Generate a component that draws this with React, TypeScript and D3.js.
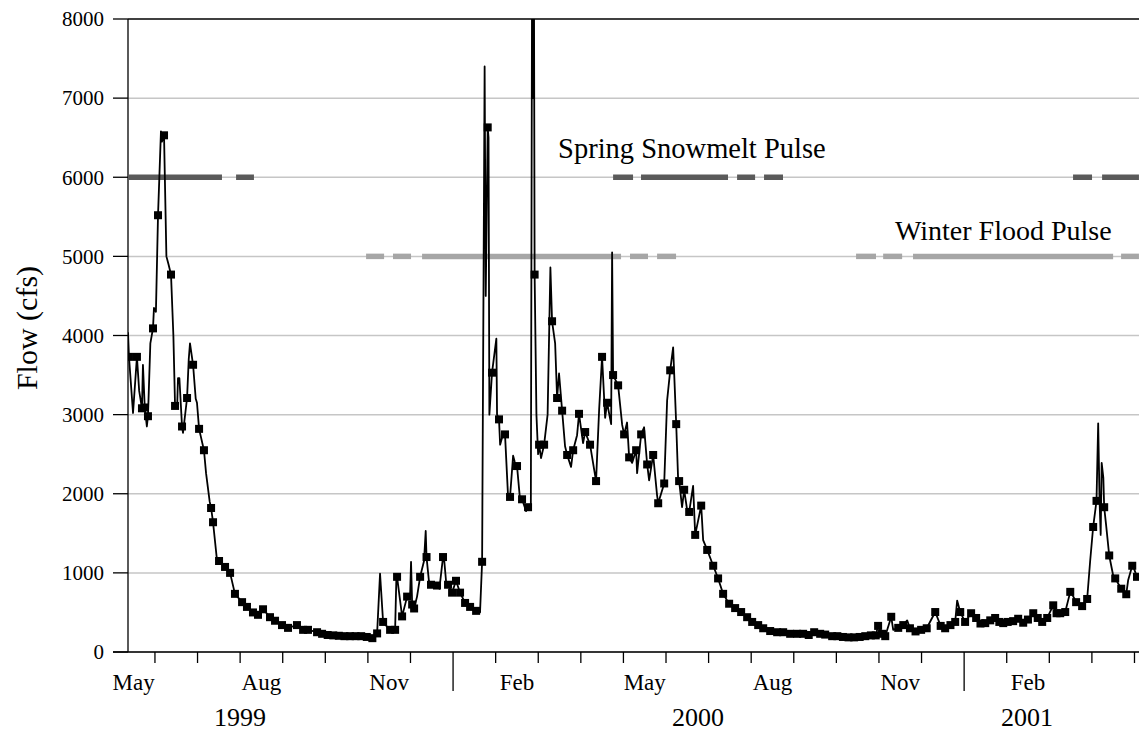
import React from "react";
import * as d3 from "d3";

// Observation index (days since first record, 13 May 1999), flow in cfs, 1 = sampled (square marker)
const flowRecord: [number, number, number][] = [
  [0, 4040, 0], [0.7, 3730, 1], [3.6, 3020, 0], [6.4, 3730, 1], [8, 3300, 0], [10, 3080, 1],
  [10.7, 3630, 0], [12, 3090, 1], [13.5, 2850, 0], [14.3, 2980, 1], [16, 3900, 0], [17.9, 4090, 1],
  [18.6, 4350, 0], [20, 4300, 0], [21.5, 5520, 1], [23.6, 6580, 0], [24.3, 6450, 0], [25.8, 6530, 1],
  [27.5, 5000, 0], [29, 4900, 0], [30.8, 4770, 1], [32.5, 4000, 0], [33.7, 3110, 1], [35.2, 3100, 0],
  [35.8, 3460, 0], [36.8, 3460, 0], [38.7, 2850, 1], [39.4, 2770, 0], [42.3, 3210, 1], [43.5, 3700, 0],
  [44.4, 3900, 0], [46.6, 3630, 1], [48.5, 3200, 0], [49.4, 3150, 0], [50.9, 2820, 1], [54.4, 2550, 1],
  [55.9, 2260, 0], [58.5, 1900, 0], [59.5, 1820, 1], [60.9, 1640, 1], [63.5, 1200, 0], [65.2, 1150, 1],
  [69.5, 1075, 1], [73.1, 1000, 1], [76.6, 735, 1], [81.7, 630, 1], [85.2, 570, 1], [89.5, 500, 1],
  [93.1, 470, 1], [96.7, 540, 1], [101.7, 440, 1], [105.3, 395, 1], [110.3, 340, 1], [114.6, 305, 1],
  [121, 340, 1], [125.4, 280, 1], [128.9, 280, 1], [135.4, 250, 1], [139, 230, 1], [143, 215, 1],
  [147, 210, 1], [151, 205, 1], [155, 200, 1], [159, 200, 1], [163, 200, 1], [167, 200, 1],
  [171, 190, 1], [175, 175, 1], [178.4, 235, 1], [180.5, 990, 0], [182.7, 380, 1], [185, 330, 0],
  [187.7, 280, 1], [191.3, 280, 1], [192.2, 940, 0], [192.7, 950, 1], [196.3, 450, 1], [199.9, 700, 1],
  [202, 700, 0], [202.7, 1140, 0], [203.5, 600, 1], [204.9, 550, 1], [207, 700, 0], [209.2, 950, 1],
  [212, 1150, 0], [213.2, 1530, 0], [213.8, 1200, 1], [215.5, 900, 0], [217, 850, 1], [219, 820, 0],
  [221.3, 840, 1], [223, 800, 0], [225.6, 1200, 1], [226.5, 1150, 0], [228, 850, 0], [229.2, 850, 1],
  [232.1, 750, 1], [234.9, 900, 1], [237.8, 750, 1], [241.4, 620, 1], [245, 570, 1], [249.3, 520, 1],
  [252.1, 500, 0], [253.6, 1140, 1], [255.4, 7400, 0], [256.2, 4500, 0], [257.6, 6630, 1], [258.2, 6500, 0],
  [258.8, 3000, 0], [260.7, 3530, 1], [263.8, 3960, 0], [264.3, 3000, 0], [265.7, 2940, 1], [266.5, 2620, 0],
  [268.5, 2750, 0], [270, 2750, 1], [272.2, 1960, 0], [273.6, 1960, 1], [275.8, 2480, 0], [277, 2400, 0],
  [278.6, 2350, 1], [280.8, 1920, 0], [282.2, 1930, 1], [285.1, 1780, 0], [286.5, 1830, 1], [288.5, 1800, 0],
  [289.5, 9500, 0], [290.1, 7000, 0], [290.6, 9500, 0], [291.2, 4770, 1], [292.5, 3000, 0], [293.7, 2500, 0],
  [294.4, 2620, 1], [295.8, 2450, 0], [298, 2620, 1], [300.5, 3000, 0], [302.5, 4860, 0], [303.7, 4180, 1],
  [305.9, 3900, 0], [307.3, 3210, 1], [308.7, 3520, 0], [310.9, 3050, 1], [313, 2600, 0], [314.5, 2490, 1],
  [317.3, 2340, 0], [318.8, 2550, 1], [321.6, 2740, 0], [323, 3010, 1], [325.9, 2640, 0], [327.4, 2780, 1],
  [330.9, 2620, 1], [335.2, 2160, 1], [337.4, 3060, 0], [339.5, 3730, 1], [341.7, 2960, 0], [343.1, 3150, 1],
  [346, 2880, 0], [346.7, 5050, 0], [347.4, 3500, 1], [351, 3370, 1], [353.9, 2870, 0], [355.3, 2750, 1],
  [357.4, 2900, 0], [358.9, 2460, 1], [361, 2390, 0], [363.9, 2550, 1], [364.6, 2260, 0], [367.5, 2750, 1],
  [369.6, 2840, 0], [371.8, 2370, 1], [373.2, 2170, 0], [376.1, 2490, 1], [378.9, 1980, 0], [379.7, 1880, 1],
  [384, 2130, 1], [386.1, 3180, 0], [388.3, 3560, 1], [390.4, 3850, 0], [392.6, 2880, 1], [394, 2170, 0],
  [394.7, 2160, 1], [396.8, 1830, 0], [398.3, 2050, 1], [400.4, 1800, 0], [401.9, 1770, 1], [404.7, 2100, 0],
  [406.2, 1480, 1], [410.5, 1850, 1], [411.9, 1415, 0], [414.8, 1290, 1], [419.1, 1090, 1], [422.6, 930, 1],
  [426.2, 735, 1], [430.5, 610, 1], [434.8, 555, 1], [439.1, 505, 1], [443.4, 440, 1], [447, 380, 1],
  [451.3, 340, 1], [454.9, 300, 1], [459.9, 265, 1], [464.9, 250, 1], [469.2, 250, 1], [474.2, 230, 1],
  [479.2, 230, 1], [483.5, 230, 1], [487.5, 215, 1], [491.4, 250, 1], [495.7, 230, 1], [499.3, 220, 1],
  [504.3, 200, 1], [508, 200, 1], [512, 190, 1], [516, 185, 1], [520, 185, 1], [524, 190, 1],
  [528, 200, 1], [532, 210, 1], [535.5, 210, 1], [537.2, 330, 1], [540, 230, 1], [542.3, 200, 1],
  [546.6, 445, 1], [548, 280, 0], [551.6, 305, 1], [555.2, 340, 1], [558, 400, 0], [560, 300, 1],
  [564, 260, 1], [568, 280, 1], [572, 300, 1], [578.1, 505, 1], [582, 330, 1], [585.2, 300, 1],
  [589, 340, 1], [592.4, 380, 1], [593.8, 650, 0], [596, 505, 1], [599.5, 380, 1], [603.8, 490, 1],
  [607.4, 430, 1], [610.5, 360, 1], [613.9, 365, 1], [617.5, 400, 1], [621, 430, 1], [624, 380, 1],
  [626.8, 365, 1], [630, 380, 1], [633.9, 390, 1], [637.5, 420, 1], [641.1, 370, 1], [644.5, 410, 1],
  [648.3, 490, 1], [651.5, 430, 1], [654.7, 380, 1], [658.3, 430, 1], [662.6, 590, 1], [665, 490, 1],
  [667.6, 490, 1], [671.2, 505, 1], [674.8, 760, 1], [677, 700, 0], [679, 630, 1], [683.3, 580, 1],
  [686.9, 670, 1], [689.1, 1160, 0], [691.2, 1580, 1], [693.6, 1910, 1], [694.8, 2890, 0], [695.8, 1900, 0],
  [696.6, 1480, 0], [697.3, 2390, 0], [698.5, 2200, 0], [699.1, 1830, 1], [700.5, 1600, 0], [702.7, 1220, 1],
  [705.5, 970, 0], [707, 930, 1], [711.3, 800, 1], [714.9, 730, 1], [716.3, 910, 0], [719.2, 1090, 1],
  [720.5, 1050, 0], [722.6, 950, 1],
];

// Pulse periods [start, end] in observation days
const springPulse: [number, number][] = [
  [0, 67.3], [77.4, 90.2], [347.4, 361.7], [367.4, 429.7], [436.2, 449.1], [455.5, 469.1],
  [676.8, 690.4], [697.6, 724],
];
const winterPulse: [number, number][] = [
  [170.5, 183.4], [189.8, 202.7], [210.6, 353.1], [359.5, 372.4], [378.9, 392.5],
  [521.4, 535.7], [540.8, 554.4], [562.2, 705.5], [711.2, 724],
];
const springLevel = 6000;
const winterLevel = 5000;

const yTicks = [0, 1000, 2000, 3000, 4000, 5000, 6000, 7000, 8000];
// months after 1 May 1999 (first record falls on day 11.2 of that month; 30.5 obs per month)
const monthTicks = d3.range(1, 25);
const yearBoundaries = [8, 20];
const monthLabels = ["May", "Aug", "Nov", "Feb", "May", "Aug", "Nov", "Feb"];
const monthLabelMonths = [0, 3, 6, 9, 12, 15, 18, 21];
const yearLabels = ["1999", "2000", "2001"];
const yearLabelDays = [80.2, 408.2, 643.9];

const OBS_PER_MONTH = 30.5;
const FIRST_OFFSET = 11.2;
const monthToDay = (m: number) => m * OBS_PER_MONTH - FIRST_OFFSET;

export default function App() {
  const W = 1139, H = 733;
  const left = 128, right = 1137, top = 19, bottom = 652;
  const x = d3.scaleLinear().domain([0, 722.6]).range([left, right]);
  const y = d3.scaleLinear().domain([0, 8000]).range([bottom, top]);
  const line = d3.line<[number, number, number]>().x(d => x(d[0])).y(d => y(d[1]));
  const font = "'Liberation Serif', 'Times New Roman', serif";

  return (
    <svg width={W} height={H} style={{ position: "absolute", left: 0, top: 0, background: "#fff" }}
      fontFamily={font}>
      <defs>
        <clipPath id="plot">
          <rect x={left} y={top} width={W - left} height={bottom - top + 5} />
        </clipPath>
      </defs>
      {/* gridlines */}
      {yTicks.map(t => (
        <line key={"g" + t} x1={left} x2={W} y1={y(t)} y2={y(t)}
          stroke={t === 8000 ? "#000" : "#c6c6c6"} strokeWidth={t === 8000 ? 1.3 : 1.5} />
      ))}
      {/* y axis */}
      <line x1={left} x2={left} y1={top} y2={bottom} stroke="#000" strokeWidth={1.3} />
      {yTicks.map(t => (
        <g key={"yt" + t}>
          <line x1={113} x2={left} y1={y(t)} y2={y(t)} stroke="#000" strokeWidth={1.3} />
          <text x={104} y={y(t)} dy="0.35em" textAnchor="end" fontSize={21}>{t}</text>
        </g>
      ))}
      <text transform={`translate(37,${328}) rotate(-90)`} textAnchor="middle" fontSize={30}>
        Flow (cfs)
      </text>
      {/* pulses */}
      {springPulse.map((p, i) => (
        <line key={"s" + i} x1={x(p[0])} x2={x(p[1])} y1={y(springLevel)} y2={y(springLevel)}
          stroke="#5a5a5a" strokeWidth={5.5} />
      ))}
      {winterPulse.map((p, i) => (
        <line key={"w" + i} x1={x(p[0])} x2={x(p[1])} y1={y(winterLevel)} y2={y(winterLevel)}
          stroke="#a6a6a6" strokeWidth={5.5} />
      ))}
      <text x={x(308)} y={y(springLevel) - 19} fontSize={28.5}>Spring Snowmelt Pulse</text>
      <text x={x(549.3)} y={y(winterLevel) - 16} fontSize={28}>Winter Flood Pulse</text>
      {/* hydrograph */}
      <g clipPath="url(#plot)">
        <path d={line(flowRecord) || ""} fill="none" stroke="#000" strokeWidth={1.8} strokeLinejoin="round" />
        {flowRecord.filter(d => d[2] === 1).map((d, i) => (
          <rect key={"m" + i} x={x(d[0]) - 4} y={y(d[1]) - 4} width={8} height={8} fill="#000" />
        ))}
      </g>
      {/* x axis */}
      <line x1={113} x2={W} y1={bottom} y2={bottom} stroke="#000" strokeWidth={1.3} />
      {monthTicks.map(m => {
        const long = yearBoundaries.includes(m);
        const xx = x(monthToDay(m));
        return <line key={"mt" + m} x1={xx} x2={xx} y1={bottom} y2={long ? 691 : 663} stroke="#000" strokeWidth={1.3} />;
      })}
      {monthLabels.map((l, i) => (
        <text key={"ml" + i} x={x(monthToDay(monthLabelMonths[i] + 0.5))} y={690} textAnchor="middle" fontSize={23}>{l}</text>
      ))}
      {yearLabels.map((l, i) => (
        <text key={"yl" + i} x={x(yearLabelDays[i])} y={726} textAnchor="middle" fontSize={26}>{l}</text>
      ))}
    </svg>
  );
}
